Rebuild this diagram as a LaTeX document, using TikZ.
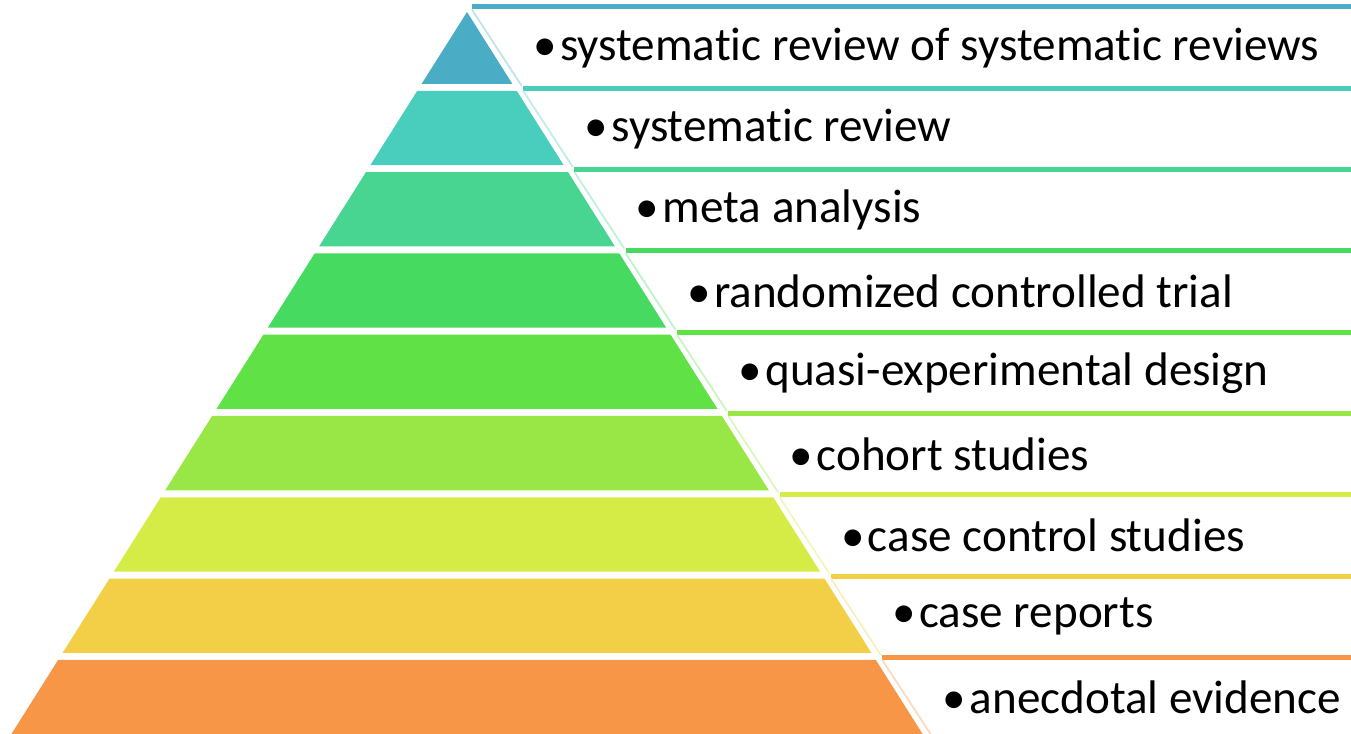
\documentclass[tikz,border=0pt]{standalone}
\usepackage{fontspec}
\setmainfont{Carlito}[Ligatures=NoCommon]
\usepackage{xcolor}
\usepackage{tikz}

% one colour per level, top to bottom
\definecolor{lv1}{HTML}{4BACC6}
\definecolor{lv2}{HTML}{49CDBC}
\definecolor{lv3}{HTML}{48D491}
\definecolor{lv4}{HTML}{47DA61}
\definecolor{lv5}{HTML}{60E146}
\definecolor{lv6}{HTML}{98E746}
\definecolor{lv7}{HTML}{D5EC46}
\definecolor{lv8}{HTML}{F2CF46}
\definecolor{lv9}{HTML}{F79646}

\begin{document}
\begin{tikzpicture}[x=0.01cm, y=-0.01cm, font=\fontsize{13.4}{16}\selectfont, lbl/.style={anchor=west, inner sep=0pt}, rim/.style={line width=0.5pt}]
\useasboundingbox (0,0) rectangle (1351,734);
\foreach \i/\txt in {1/systematic review of systematic reviews, 2/systematic review, 3/meta analysis, 4/randomized controlled trial, 5/quasi-experimental design, 6/cohort studies, 7/case control studies, 8/case reports, 9/anecdotal evidence}{
  \pgfmathsetmacro\ytop{9.5+81.3*(\i-1)}
  \pgfmathsetmacro\ybot{\i==9 ? 734 : \ytop+74.3}
  \pgfmathsetmacro\ynext{\i==9 ? 734 : \ytop+76.3}
  \pgfmathsetmacro\ypk{max(\ytop,12)}
  \pgfmathsetmacro\wtop{0.631*(\ypk-12)}
  \pgfmathsetmacro\wbot{0.631*(\ybot-12)}
  \pgfmathsetmacro\xbar{467+0.631*(\ytop-14.5)+8}
  \pgfmathsetmacro\xrim{467+0.631*(\ynext-12)+8}
  \pgfmathsetmacro\ymid{(\ytop+\ynext)/2}
  \pgfmathsetmacro\xtxt{467+0.631*(\ymid-12)+43}
  % slice of the pyramid
  \fill[lv\i] (467-\wtop,\ypk) -- (467+\wtop,\ypk) -- (467+\wbot,\ybot) -- (467-\wbot,\ybot) -- cycle;
  % text band: coloured top bar and a pale slanted side
  \fill[lv\i] (\xbar,\ytop-5) rectangle (1351,\ytop);
  \draw[rim, lv\i!35] (\xbar,\ytop) -- (\xrim,\ynext);
  \node[lbl] (t\i) at (\xtxt,\ymid) {\textbullet\kern1pt\txt};
}
\end{tikzpicture}
\end{document}
